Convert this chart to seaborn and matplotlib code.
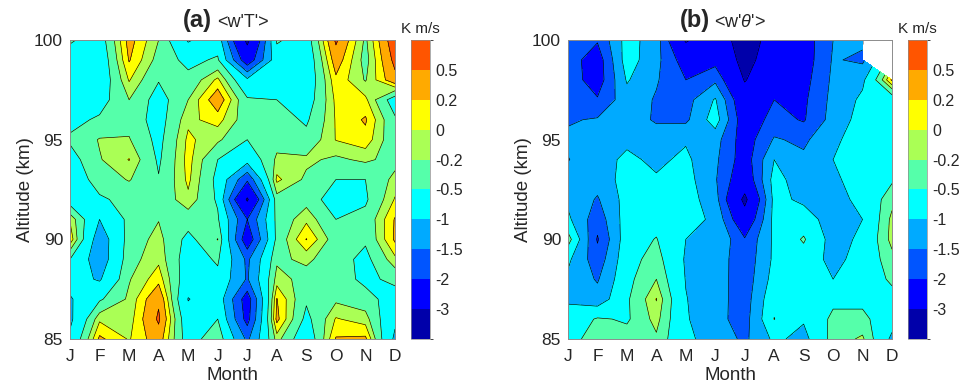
import numpy as np
import matplotlib
matplotlib.use("Agg")
import matplotlib.pyplot as plt
from matplotlib.colors import ListedColormap, BoundaryNorm
import seaborn as sns

# ---- axes and contour levels -------------------------------------------
month_labels = ["J", "F", "M", "A", "M", "J", "J", "A", "S", "O", "N", "D"]
altitudes = [100, 99, 98, 97, 96, 95, 94, 93, 92, 91, 90, 89, 88, 87, 86, 85]
levels = [-4, -3, -2, -1.5, -1, -0.5, -0.2, 0, 0.2, 0.5, 1]
level_labels = ["-3", "-2", "-1.5", "-1", "-0.5", "-0.2", "0", "0.2", "0.5"]

# ---- monthly mean heat flux <w'T'> (K m/s); rows = altitude, cols = J..D --
wT_flux = [
    [-0.45, -0.70, 0.30, -0.20, -1.05, -0.70, -3.20, -0.45, -0.70, 0.55, -0.25, 0.75],
    [-0.70, -0.80, 0.22, -0.30, -0.60, -0.45, -2.40, -0.70, -0.80, 0.35, -0.30, 0.60],
    [-0.80, -0.80, 0.02, -0.48, -0.40, 0.05, -0.90, -0.75, -0.80, 0.15, -0.22, 0.40],
    [-0.80, -0.65, -0.20, -0.65, -0.20, 0.38, -0.45, -0.50, -0.70, 0.05, 0.05, -0.70],
    [-0.60, -0.45, -0.30, -0.65, -0.05, 0.08, -0.35, -0.35, -0.55, 0.02, 0.23, -0.45],
    [-0.45, -0.18, -0.18, -0.60, 0.05, -0.15, -0.50, -0.30, -0.40, 0.01, 0.12, -0.40],
    [-0.65, -0.22, 0.01, -0.55, 0.08, -0.50, -0.80, -0.15, -0.15, -0.25, -0.15, -0.30],
    [-0.75, -0.35, -0.18, -0.48, 0.05, -0.60, -1.90, 0.05, -0.25, -0.50, -0.50, -0.12],
    [-0.70, -0.55, -0.40, -0.40, -0.05, -0.55, -3.10, -0.30, -0.30, -0.70, -0.55, 0.02],
    [-0.02, -1.00, -0.40, -0.21, -0.35, -0.45, -2.00, -0.40, -0.05, -0.50, -0.40, 0.22],
    [0.15, -1.30, -0.35, -0.12, -0.60, -0.19, -2.40, -0.40, 0.21, -0.35, -0.45, 0.24],
    [-0.50, -1.30, -0.30, -0.05, -0.70, -0.45, -1.60, -0.25, -0.15, -0.35, -0.60, -0.05],
    [-0.80, -1.05, -0.22, 0.12, -0.75, -0.60, -1.55, -0.10, -0.30, -0.30, -0.60, -0.40],
    [-1.05, -0.55, -0.15, 0.45, -1.02, -0.70, -2.30, 0.21, -0.45, -0.25, -0.35, -0.70],
    [-1.10, -0.04, -0.10, 0.55, -0.80, -0.50, -2.20, 0.27, -0.60, 0.02, -0.10, -0.90],
    [-0.90, 0.25, -0.02, 0.35, -0.70, -0.25, -1.60, -0.10, -0.80, 0.22, 0.25, -1.10],
]

# ---- monthly mean potential-temperature flux <w'theta'> (K m/s) ----------
wtheta_flux = [
    [-1.70, -1.95, -0.80, -1.25, -3.10, -2.40, -3.50, -2.60, -2.30, -1.50, -1.40, np.nan],
    [-1.75, -2.30, -0.75, -1.35, -2.30, -2.20, -3.30, -2.50, -2.30, -1.45, -1.60, np.nan],
    [-1.70, -2.30, -0.95, -1.45, -2.00, -1.60, -3.05, -2.30, -2.20, -1.40, -1.10, 0.25],
    [-1.65, -1.95, -1.20, -1.55, -1.70, -0.95, -2.60, -2.00, -2.10, -1.35, -0.90, -0.75],
    [-1.55, -1.45, -1.30, -1.55, -1.60, -0.75, -2.40, -1.80, -2.05, -1.30, -0.80, -0.80],
    [-1.40, -1.30, -1.10, -1.30, -1.05, -1.30, -2.30, -1.45, -1.60, -1.10, -0.75, -0.75],
    [-1.52, -1.20, -0.90, -1.10, -0.90, -1.40, -2.30, -1.00, -1.40, -1.00, -0.70, -0.70],
    [-1.30, -1.30, -0.80, -0.95, -0.80, -1.45, -2.50, -0.80, -1.30, -1.10, -0.75, -0.55],
    [-1.10, -1.55, -0.80, -0.80, -0.75, -1.30, -3.20, -0.85, -1.10, -1.20, -0.85, -0.30],
    [-0.90, -1.80, -0.75, -0.65, -0.80, -1.10, -2.60, -0.85, -0.75, -1.25, -1.00, -0.12],
    [-0.30, -2.05, -0.70, -0.48, -1.00, -1.00, -1.95, -0.90, -0.45, -1.20, -0.90, -0.10],
    [-0.90, -1.80, -0.65, -0.35, -1.05, -1.20, -1.85, -0.90, -0.70, -1.15, -0.80, -0.30],
    [-1.10, -1.55, -0.60, -0.20, -1.02, -1.25, -1.80, -0.80, -0.80, -1.00, -0.70, -0.45],
    [-1.05, -1.30, -0.55, 0.01, -0.98, -1.30, -1.75, -0.60, -0.85, -0.60, -0.60, -0.60],
    [-0.85, -0.45, -0.55, -0.10, -0.95, -1.35, -1.70, -0.49, -0.95, -0.40, -0.40, -0.80],
    [-0.75, -0.20, -0.35, -0.25, -0.90, -1.20, -1.60, -0.90, -1.15, -0.35, -0.15, -1.10],
]

# ---- style ---------------------------------------------------------------
sns.set_style("ticks")
plt.rcParams["font.family"] = ["Liberation Sans", "DejaVu Sans"]
plt.rcParams["mathtext.fontset"] = "custom"
plt.rcParams["mathtext.it"] = "Liberation Sans:italic"
plt.rcParams["mathtext.rm"] = "Liberation Sans"
plt.rcParams["contour.negative_linestyle"] = "solid"

# ten-step jet palette
jet10 = [(0, 0, 0.6667), (0, 0, 1), (0, 0.3333, 1), (0, 0.6667, 1), (0, 1, 1),
         (0.3333, 1, 0.6667), (0.6667, 1, 0.3333), (1, 1, 0), (1, 0.6667, 0), (1, 0.3333, 0)]
cmap = ListedColormap(sns.color_palette(jet10, n_colors=10))

months = np.arange(1, 13)
edge_grey = "#8c8c8c"

fig = plt.figure(figsize=(9.73, 3.89), dpi=100)
W, H = 973.0, 389.0


def panel(ax_px, cax_px, data, tag, name):
    ax = fig.add_axes([ax_px[0] / W, 1 - ax_px[3] / H,
                       (ax_px[2] - ax_px[0]) / W, (ax_px[3] - ax_px[1]) / H])
    cax = fig.add_axes([cax_px[0] / W, 1 - ax_px[3] / H,
                        (cax_px[1] - cax_px[0]) / W, (ax_px[3] - ax_px[1]) / H])
    norm = BoundaryNorm(levels, ncolors=10)  # one norm per panel
    Z = np.ma.masked_invalid(np.array(data, dtype=float))
    X, Y = np.meshgrid(months, altitudes)
    cf = ax.contourf(X, Y, Z, levels=levels, cmap=cmap, norm=norm)
    ax.contour(X, Y, Z, levels=levels[1:-1], colors="k", linewidths=0.45,
               linestyles="solid")

    ax.set_xlim(1, 12)
    ax.set_ylim(85, 100)
    ax.set_xticks(months)
    ax.set_xticklabels(month_labels)
    ax.set_yticks([85, 90, 95, 100])
    ax.tick_params(direction="in", length=3, width=0.5, color=edge_grey,
                   top=True, right=True, labelsize=12.5, pad=5)
    ax.tick_params(axis="x", pad=7)
    for sp in ax.spines.values():
        sp.set_color(edge_grey)
        sp.set_linewidth(0.7)
    ax.set_xlabel("Month", fontsize=13.5, labelpad=2)
    ax.set_ylabel("Altitude (km)", fontsize=13.5, labelpad=0)

    ax.text(0.438, 1.045, tag, transform=ax.transAxes, ha="right",
            va="baseline", fontsize=17, fontweight="bold")
    ax.text(0.452, 1.045, name, transform=ax.transAxes, ha="left",
            va="baseline", fontsize=13)

    cb = fig.colorbar(cf, cax=cax, spacing="uniform")
    cb.set_ticks(levels[1:-1], labels=level_labels)
    cb.ax.tick_params(length=0, labelsize=11.5, pad=4)
    cb.outline.set_edgecolor(edge_grey)
    cb.outline.set_linewidth(0.5)
    cb.ax.set_title("K m/s", fontsize=11, pad=5)
    return ax


panel((70, 40, 395, 339), (411, 430), wT_flux, "(a)", "<w'T'>")
panel((568, 40, 892, 339), (908, 927), wtheta_flux, "(b)", r"<w'$\theta$'>")

fig.savefig("out.png", dpi=100)
